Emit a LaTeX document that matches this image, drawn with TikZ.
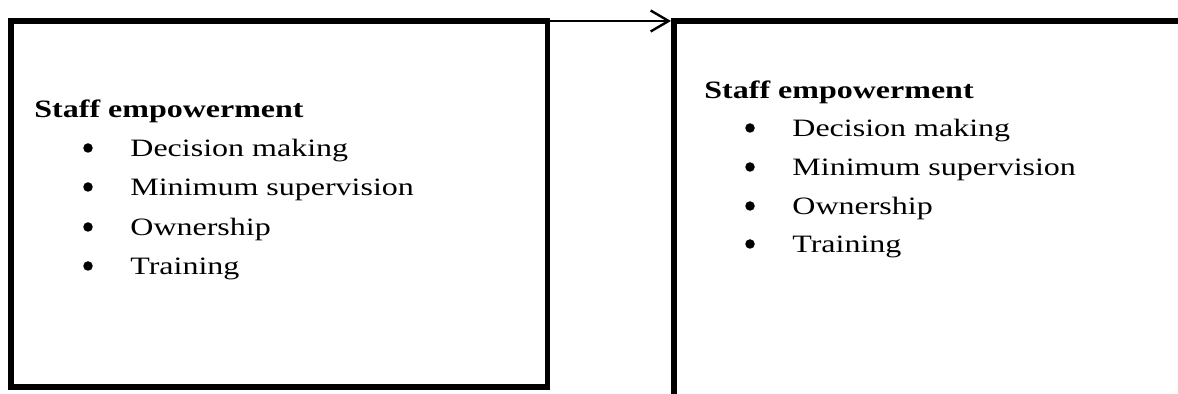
\documentclass[tikz,border=0pt]{standalone}
\usepackage{fontspec}
\setmainfont{Liberation Serif}
\usepackage{graphicx}
\usepackage{tikz}
\usetikzlibrary{arrows.meta}
\newcommand{\wide}[1]{\scalebox{1.28}[1]{#1}}

\begin{document}
\begin{tikzpicture}[x=0.5pt,y=-0.5pt,
  box/.style={shape=rectangle,draw=black,line width=2.75pt,outer sep=0pt,inner sep=0pt},
  head/.style={anchor=base west,inner sep=0pt,font=\fontsize{12.5}{15}\selectfont\bfseries},
  item/.style={anchor=base west,inner sep=0pt,font=\fontsize{12.5}{15}\selectfont},
  dot/.style={shape=circle,fill=black,inner sep=0pt,minimum size=4.75pt},
  >={Straight Barb[length=9pt,width=10.5pt]}]
\useasboundingbox (0,0) rectangle (1178,394);
\clip (0,0) rectangle (1178,394);
\node[box,minimum width=268.25pt,minimum height=183pt] (0) at (279.25,204) {};
\node[box,anchor=north west,minimum width=300pt,minimum height=250pt] (1) at (674,21) {};

\node[head] (2) at (34,118) {\wide{Staff empowerment}};
\node[dot] (3) at (88,148) {};
\node[item] (4) at (130,157) {\wide{Decision making}};
\node[dot] (5) at (88,187) {};
\node[item] (6) at (130,196) {\wide{Minimum supervision}};
\node[dot] (7) at (88,227) {};
\node[item] (8) at (130,236) {\wide{Ownership}};
\node[dot] (9) at (88,266) {};
\node[item] (10) at (130,275) {\wide{Training}};

\node[head] (11) at (704,99) {\wide{Staff empowerment}};
\node[dot] (12) at (750,128) {};
\node[item] (13) at (792,137) {\wide{Decision making}};
\node[dot] (14) at (750,167) {};
\node[item] (15) at (792,176) {\wide{Minimum supervision}};
\node[dot] (16) at (750,206) {};
\node[item] (17) at (792,215) {\wide{Ownership}};
\node[dot] (18) at (750,244) {};
\node[item] (19) at (792,253) {\wide{Training}};

\path [->,draw=black,line width=1.2pt,shorten >=1.5pt] (0.north east) -- (1.north west);
\end{tikzpicture}
\end{document}
